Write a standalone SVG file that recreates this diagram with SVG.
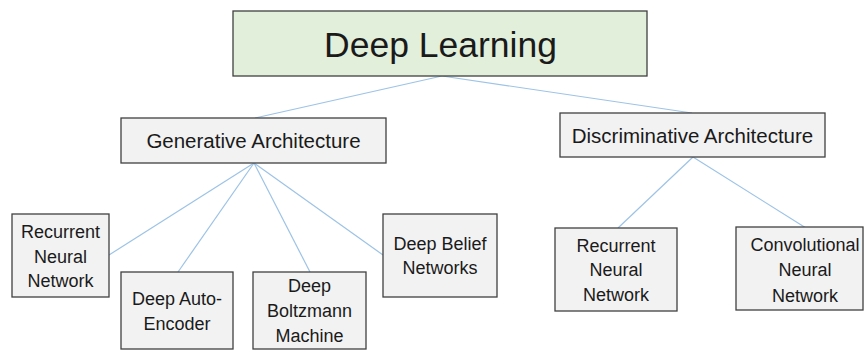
<svg xmlns="http://www.w3.org/2000/svg" width="866" height="350" viewBox="0 0 866 350">
<style>
  .box{fill:#F2F2F2;stroke:#404040;stroke-width:1.3}
  .root{fill:#E2EFDA;stroke:#404040;stroke-width:1.3}
  text{font-family:"Liberation Sans",Arial,sans-serif;fill:#1a1a1a;text-anchor:middle}
  .t18{font-size:18px}
  .t20{font-size:20.5px}
  .t35{font-size:35.5px}
  .conn line{stroke:#9DC3E6;stroke-width:1.2}
</style>
<rect width="866" height="350" fill="#ffffff"/>
<g id="connectors" class="conn">
  <line x1="442" y1="76" x2="255" y2="118"/>
  <line x1="442" y1="76" x2="692" y2="113"/>
  <line x1="254" y1="163" x2="109" y2="255"/>
  <line x1="254" y1="163" x2="178" y2="272"/>
  <line x1="254" y1="163" x2="310" y2="272"/>
  <line x1="254" y1="163" x2="383" y2="255"/>
  <line x1="693" y1="157" x2="618" y2="228"/>
  <line x1="693" y1="157" x2="806" y2="228"/>
</g>
<g id="deep-learning">
  <rect class="root" x="233" y="11" width="414" height="65"/>
  <text class="t35" x="440.5" y="57">Deep Learning</text>
</g>
<g id="generative">
  <rect class="box" x="121" y="118" width="265" height="45"/>
  <text class="t20" x="253.5" y="148">Generative Architecture</text>
</g>
<g id="discriminative">
  <rect class="box" x="560" y="113" width="265" height="44"/>
  <text class="t20" x="692.5" y="143">Discriminative Architecture</text>
</g>
<g id="gen-rnn">
  <rect class="box" x="12" y="214" width="97" height="83"/>
  <text class="t18" x="60.5" y="238">Recurrent</text>
  <text class="t18" x="60.5" y="263">Neural</text>
  <text class="t18" x="60.5" y="287">Network</text>
</g>
<g id="deep-auto-encoder">
  <rect class="box" x="121" y="272" width="112" height="77"/>
  <text class="t18" x="177" y="305">Deep Auto-</text>
  <text class="t18" x="177" y="330">Encoder</text>
</g>
<g id="deep-boltzmann">
  <rect class="box" x="253" y="272" width="113" height="77"/>
  <text class="t18" x="309.5" y="292">Deep</text>
  <text class="t18" x="309.5" y="317">Boltzmann</text>
  <text class="t18" x="309.5" y="342">Machine</text>
</g>
<g id="deep-belief">
  <rect class="box" x="383" y="214" width="114" height="83"/>
  <text class="t18" x="440" y="250">Deep Belief</text>
  <text class="t18" x="440" y="274">Networks</text>
</g>
<g id="disc-rnn">
  <rect class="box" x="555" y="228" width="122" height="83"/>
  <text class="t18" x="616" y="252">Recurrent</text>
  <text class="t18" x="616" y="276">Neural</text>
  <text class="t18" x="616" y="301">Network</text>
</g>
<g id="cnn">
  <rect class="box" x="736" y="227" width="127" height="83"/>
  <text class="t18" x="805" y="251">Convolutional</text>
  <text class="t18" x="805" y="276">Neural</text>
  <text class="t18" x="805" y="302">Network</text>
</g>
</svg>
